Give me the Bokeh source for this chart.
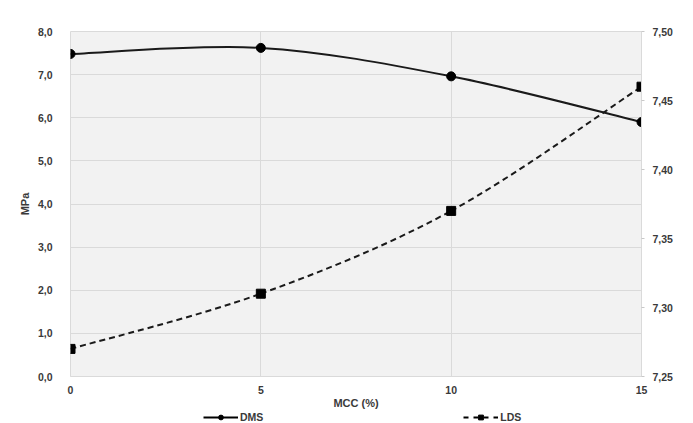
from bokeh.plotting import figure
from bokeh.layouts import column
from bokeh.models import (Range1d, LinearAxis, Legend, LegendItem, FixedTicker,
                          CustomJSTickFormatter)
from bokeh.embed import file_html
from bokeh.resources import INLINE

# ---- data ----
mcc = [0, 5, 10, 15]
dms = [7.48, 7.62, 6.96, 5.90]      # MPa, left axis
lds = [7.27, 7.31, 7.37, 7.46]      # right axis
x_ticks = [0, 5, 10, 15]
left_ticks = [0, 1, 2, 3, 4, 5, 6, 7, 8]
right_ticks = [7.25, 7.30, 7.35, 7.40, 7.45, 7.50]
series_names = ["DMS", "LDS"]

FONT = "Liberation Sans Narrow, Liberation Sans, Arial Narrow, sans-serif"
TXT = "#3a3a3a"
GRID = "#dadada"


def smooth(xs, ys):
    """Bezier control points (Catmull-Rom style) for a smoothed line."""
    n = len(xs)
    out = dict(x0=[], y0=[], x1=[], y1=[], cx0=[], cy0=[], cx1=[], cy1=[])
    for i in range(n - 1):
        a = max(i - 1, 0)
        d = min(i + 2, n - 1)
        out["x0"].append(xs[i]); out["y0"].append(ys[i])
        out["x1"].append(xs[i + 1]); out["y1"].append(ys[i + 1])
        out["cx0"].append(xs[i] + (xs[i + 1] - xs[a]) / 6)
        out["cy0"].append(ys[i] + (ys[i + 1] - ys[a]) / 6)
        out["cx1"].append(xs[i + 1] - (xs[d] - xs[i]) / 6)
        out["cy1"].append(ys[i + 1] - (ys[d] - ys[i]) / 6)
    return out


p = figure(width=692, height=411, output_backend="svg", toolbar_location=None,
           x_range=Range1d(0, 15), y_range=Range1d(0, 8),
           min_border_left=70, min_border_right=51, min_border_top=31,
           min_border_bottom=30)
p.extra_y_ranges = {"r": Range1d(7.25, 7.50)}

p.background_fill_color = "#f2f2f2"
p.border_fill_color = "white"
p.outline_line_color = GRID
p.xgrid.grid_line_color = GRID
p.ygrid.grid_line_color = GRID
p.xgrid.ticker = FixedTicker(ticks=x_ticks)
p.ygrid.ticker = FixedTicker(ticks=left_ticks)

# x axis
xa = p.xaxis[0]
xa.ticker = FixedTicker(ticks=x_ticks)
xa.axis_label = "MCC (%)"
xa.axis_line_color = GRID
xa.major_tick_line_color = None
xa.minor_tick_line_color = None
xa.major_label_standoff = 3
xa.axis_label_standoff = 0

# left axis
ya = p.yaxis[0]
ya.ticker = FixedTicker(ticks=left_ticks)
ya.formatter = CustomJSTickFormatter(code="return tick.toFixed(1).replace('.', ',');")
ya.axis_label = "MPa"
ya.axis_line_color = None
ya.major_tick_line_color = None
ya.minor_tick_line_color = None
ya.major_label_standoff = 12
ya.axis_label_standoff = 4

# right axis
ra = LinearAxis(y_range_name="r", ticker=FixedTicker(ticks=right_ticks),
                formatter=CustomJSTickFormatter(code="return tick.toFixed(2).replace('.', ',');"))
ra.axis_line_color = GRID
ra.major_tick_line_color = "#c8c8c8"
ra.major_tick_in = 0
ra.major_tick_out = 3
ra.minor_tick_line_color = None
ra.major_label_standoff = 8
p.add_layout(ra, "right")

for ax in (xa, ya, ra):
    ax.major_label_text_font = FONT
    ax.major_label_text_font_size = "10.5px"
    ax.major_label_text_font_style = "bold"
    ax.major_label_text_color = TXT
    ax.axis_label_text_font = FONT
    ax.axis_label_text_font_size = "11px"
    ax.axis_label_text_font_style = "bold"
    ax.axis_label_text_color = TXT

# DMS series (left axis)
s1 = smooth(mcc, dms)
p.bezier(x0=s1["x0"], y0=s1["y0"], x1=s1["x1"], y1=s1["y1"],
         cx0=s1["cx0"], cy0=s1["cy0"], cx1=s1["cx1"], cy1=s1["cy1"],
         line_color="#1a1a1a", line_width=2)
p.scatter(mcc, dms, marker="circle", size=9, color="black")

# LDS series (right axis)
s2 = smooth(mcc, lds)
p.bezier(x0=s2["x0"], y0=s2["y0"], x1=s2["x1"], y1=s2["y1"],
         cx0=s2["cx0"], cy0=s2["cy0"], cx1=s2["cx1"], cy1=s2["cy1"],
         line_color="#1a1a1a", line_width=2, line_dash="6 4", y_range_name="r")
p.scatter(mcc, lds, marker="square", size=9, color="black", y_range_name="r")

# ---- legend strip (separate small figure below the chart) ----
# Its ranges are far from the data, so the proxy renderers only show in the legend.
lg = figure(width=692, height=12, output_backend="svg", toolbar_location=None,
            x_range=Range1d(100, 101), y_range=Range1d(100, 101),
            min_border=0, min_border_left=0, min_border_right=0,
            min_border_top=0, min_border_bottom=0)
lg.axis.visible = False
lg.grid.visible = False
lg.outline_line_color = None
lg.background_fill_color = "white"

l1 = lg.line(mcc, dms, line_color="black", line_width=1.8)
l2 = lg.line(mcc, lds, line_color="black", line_width=1.8, line_dash="5 5")
k1 = lg.scatter(mcc, dms, marker="circle", size=5, color="black")
k2 = lg.scatter(mcc, lds, marker="square", size=6, color="black")

legend = Legend(items=[LegendItem(label=series_names[0], renderers=[l1, k1]),
                       LegendItem(label=series_names[1], renderers=[l2, k2])],
                orientation="horizontal", location=(133, 0))
legend.glyph_width = 35
legend.glyph_height = 12
legend.label_standoff = 2
legend.label_height = 12
legend.spacing = 200
legend.padding = 0
legend.margin = 0
legend.border_line_color = None
legend.background_fill_alpha = 0
legend.label_text_font = FONT
legend.label_text_font_size = "10.5px"
legend.label_text_font_style = "bold"
legend.label_text_color = TXT
lg.add_layout(legend)

layout = column(p, lg, spacing=0)
open("out.html", "w").write(file_html(layout, INLINE))
